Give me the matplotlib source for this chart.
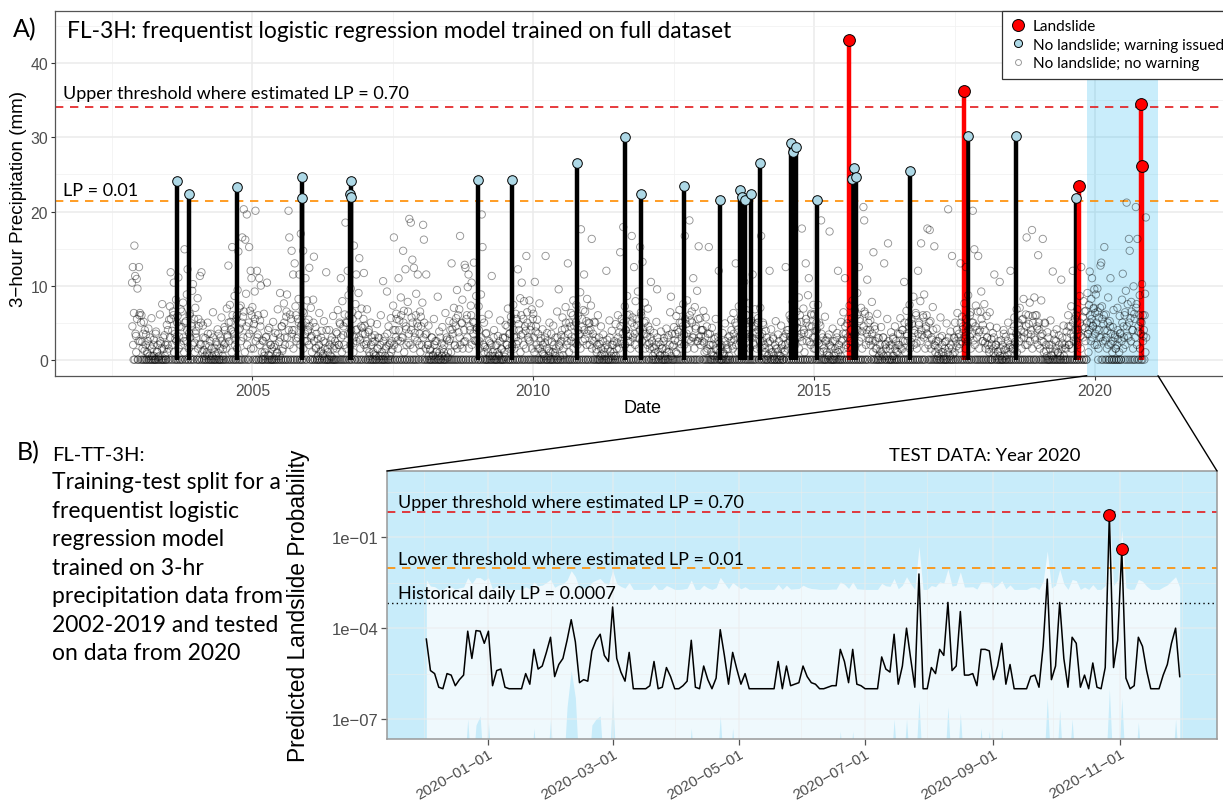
import numpy as np
import pandas as pd
import matplotlib.pyplot as plt
import matplotlib.dates as mdates
from matplotlib.lines import Line2D
from matplotlib.patches import ConnectionPatch
from matplotlib.ticker import FixedLocator, FuncFormatter

plt.rcParams['font.family'] = ['Liberation Sans', 'DejaVu Sans']
note_font = ['Lato', 'DejaVu Sans']

# ---------------- panel A data: 3-hour max precipitation (mm), sampled every 5 days
rain_2002 = [10.4, 12.5, 0, 15.4, 11.3, 3.2, 10.9, 9.6, 0, 12.5]
rain_2003 = [6.3, 0, 6.0, 2.4, 0, 5.1, 1.2, 0, 3.4, 0, 0.8, 4.2,
             0, 1.9, 0, 5.6, 0.5, 0, 2.7, 0, 0, 3.8, 1.1, 0,
             0.4, 0, 6.1, 2.2, 0, 7.5, 0, 1.5, 3.3, 0, 0, 4.7,
             2.0, 0, 5.4, 7.2, 11.8, 0, 3.9, 6.5, 10.4, 0, 2.8, 8.1,
             0, 5.9, 11.1, 3.1, 0, 6.8, 4.4, 0, 7.7, 2.5, 14.9, 0,
             5.2, 8.8, 12.2, 0, 3.6, 6.2, 0, 4.9, 9.3, 10.2, 0, 2.3, 7.0]
rain_2004 = [3.9, 0, 8.3, 5.5, 0, 11.3, 2.1, 11.8, 0, 4.6, 1.3, 0,
             2.9, 0, 0.7, 5.0, 0, 1.8, 0, 3.5, 0, 0.5, 6.4, 0,
             1.6, 0, 2.4, 0, 4.1, 0.9, 0, 0, 3.0, 5.7, 0, 1.4,
             0, 4.4, 2.2, 0, 6.9, 3.3, 12.7, 0, 7.4, 5.1, 0, 15.2,
             3.8, 0, 8.6, 2.7, 0, 6.0, 9.4, 14.6, 0, 4.2, 7.3, 0,
             16.5, 5.8, 20.3, 0, 16.2, 8.9, 19.6, 3.1, 0, 15.2, 6.6, 12.0, 11.0]
rain_2005 = [7.1, 0, 4.8, 9.2, 20.1, 0, 12.0, 3.4, 0, 11.0, 5.3, 10.0,
             0, 2.6, 0, 6.2, 1.0, 0, 3.1, 10.4, 0, 0.6, 4.3, 0,
             2.0, 0, 0, 5.1, 1.7, 0, 3.6, 0, 0.9, 6.8, 0, 2.4,
             9.0, 0, 4.5, 1.2, 0, 7.6, 3.0, 0, 5.8, 8.8, 0, 20.1,
             16.5, 6.1, 0, 14.7, 4.0, 11.5, 0, 13.0, 7.2, 2.9, 0, 5.5,
             8.2, 11.5, 0, 17.0, 4.7, 0, 14.7, 6.3, 2.5, 11.0, 0, 8.0, 3.8]
rain_2006 = [5.4, 12.4, 0, 7.0, 3.2, 0, 8.1, 13.9, 0, 4.4, 1.6, 0,
             2.8, 0, 6.3, 0, 1.2, 3.9, 0, 0.8, 5.2, 0, 2.3, 11.8,
             0, 1.5, 0, 4.0, 0, 2.6, 0.4, 0, 5.9, 0, 1.9, 0,
             3.7, 0, 6.7, 2.0, 0, 4.8, 11.0, 0, 7.9, 3.3, 0, 6.1,
             18.5, 0, 5.0, 12.0, 8.7, 0, 3.5, 9.6, 0, 6.4, 2.2, 15.4,
             0, 7.5, 11.5, 4.1, 0, 9.0, 13.7, 2.7, 0, 6.9, 4.3, 0, 11.7]
rain_2007 = [4.6, 0, 2.1, 6.8, 0, 3.7, 1.0, 0, 5.0, 0, 2.4, 0,
             0.7, 3.3, 0, 0, 4.8, 1.5, 0, 2.9, 0, 6.0, 0.5, 0,
             10.6, 0, 3.1, 0, 1.8, 9.2, 0, 4.5, 0, 2.2, 5.6, 0,
             1.4, 7.3, 16.5, 0, 4.0, 6.2, 0, 2.6, 11.0, 5.3, 0, 8.4,
             3.0, 0, 14.7, 6.6, 0, 12.2, 4.1, 0, 7.8, 2.3, 19.0, 0,
             18.5, 5.7, 13.5, 0, 12.4, 3.6, 0, 8.9, 4.9, 11.5, 0, 2.0, 6.5]
rain_2008 = [5.8, 0, 7.7, 18.2, 16.2, 0, 3.4, 11.5, 0, 2.0, 4.6, 0,
             1.3, 0, 3.0, 0, 0.6, 5.5, 0, 2.5, 0, 1.1, 8.5, 0,
             3.8, 0, 0, 2.2, 4.4, 0, 1.0, 0, 6.3, 0, 2.7, 0.3,
             0, 5.2, 2.8, 0, 13.0, 4.1, 0, 7.0, 1.9, 0, 5.6, 9.4,
             0, 3.7, 6.8, 16.7, 0, 4.9, 8.1, 0, 2.4, 12.8, 12.4, 0,
             6.0, 9.8, 11.5, 0, 4.0, 7.3, 10.4, 0, 5.1, 13.1, 2.6, 0, 8.6]
rain_2009 = [4.3, 0, 7.2, 2.5, 0, 8.8, 19.6, 15.2, 0, 5.0, 1.7, 0,
             3.6, 0, 1.0, 6.1, 0, 2.2, 0, 11.3, 0.5, 0, 4.0, 0,
             1.9, 0, 0, 3.2, 0.7, 0, 5.3, 0, 1.4, 0, 2.9, 0,
             0.4, 4.7, 0, 2.0, 6.9, 0, 3.5, 0, 5.8, 1.6, 0, 7.4,
             3.0, 0, 6.2, 2.1, 0, 12.2, 4.8, 0, 8.3, 3.3, 10.4, 0,
             5.5, 7.9, 0, 3.9, 14.0, 6.4, 0, 2.7, 8.0, 0, 4.5, 6.8, 0]
rain_2010 = [6.2, 0, 10.5, 3.8, 0, 5.4, 1.5, 0, 7.6, 0, 2.9, 0,
             4.1, 0.8, 0, 2.3, 14.0, 0, 3.6, 0, 1.2, 5.0, 0, 0,
             2.4, 0, 4.6, 0, 0.9, 3.0, 0, 6.5, 0, 9.5, 1.8, 0,
             3.3, 0, 5.7, 0.6, 0, 4.2, 7.1, 0, 2.5, 13.0, 0, 5.0,
             0, 6.3, 3.1, 0, 8.0, 4.6, 0, 2.2, 7.4, 0, 5.9, 3.4,
             0, 9.1, 17.6, 4.4, 0, 6.7, 11.5, 2.8, 0, 5.2, 8.2, 0, 3.9]
rain_2011 = [4.9, 0, 7.3, 16.3, 2.6, 0, 5.1, 0, 3.0, 1.4, 0, 6.0,
             0, 2.1, 0, 4.5, 0.7, 0, 3.4, 0, 1.6, 0, 12.0, 2.7,
             0, 0, 5.3, 1.1, 0, 3.9, 0, 2.0, 0.5, 0, 4.8, 0,
             2.3, 6.0, 0, 3.7, 14.5, 0, 5.5, 2.1, 17.9, 0, 7.2, 4.0,
             0, 8.6, 3.2, 0, 6.1, 2.4, 0, 16.7, 5.7, 0, 12.5, 3.5,
             7.9, 0, 4.7, 9.2, 0, 2.9, 15.2, 6.4, 0, 13.2, 4.1, 0, 7.7]
rain_2012 = [5.2, 0, 3.1, 6.9, 0, 2.2, 4.0, 10.5, 0, 1.7, 0, 3.6,
             0.9, 0, 5.1, 9.5, 0, 2.4, 0, 0.6, 3.8, 0, 1.5, 0,
             2.9, 0, 0, 4.2, 1.0, 0, 3.3, 0, 6.4, 8.5, 0, 1.8,
             0, 4.4, 2.6, 0, 5.9, 0.8, 0, 3.7, 6.7, 0, 2.1, 5.0,
             0, 7.5, 3.4, 16.7, 0, 4.8, 8.0, 0, 2.7, 18.8, 5.3, 0,
             6.5, 3.0, 11.0, 0, 7.1, 4.2, 0, 9.3, 2.5, 15.3, 0, 5.6, 3.2]
rain_2013 = [4.0, 0, 6.6, 2.3, 0, 5.7, 1.2, 0, 3.5, 15.2, 0, 2.0,
             0, 4.3, 0.6, 0, 2.8, 0, 5.5, 1.3, 0, 3.1, 12.0, 0,
             1.7, 0, 0, 3.6, 0, 0.8, 4.9, 0, 2.0, 0, 1.4, 0,
             3.2, 0, 5.4, 1.9, 0, 6.3, 2.7, 0, 13.0, 4.6, 0, 3.0,
             7.2, 0, 2.4, 5.8, 0, 3.9, 8.1, 10.5, 0, 2.9, 6.0, 0,
             4.4, 7.6, 0, 3.1, 5.3, 0, 11.5, 2.2, 0, 6.8, 3.7, 0, 4.9]
rain_2014 = [5.6, 0, 3.3, 7.0, 16.7, 0, 2.5, 4.7, 0, 1.6, 3.9, 0,
             0, 2.3, 0.7, 12.0, 0, 4.1, 0, 1.0, 2.8, 0, 0, 5.2,
             0, 1.5, 3.4, 0, 0.5, 0, 4.6, 2.0, 0, 0, 3.0, 1.2,
             12.5, 0, 4.0, 2.2, 0, 6.0, 3.1, 0, 5.3, 7.8, 0, 10.5,
             2.6, 0, 6.5, 4.3, 0, 8.4, 3.0, 0, 5.1, 17.7, 0, 6.9,
             3.6, 0, 13.0, 5.0, 0, 8.7, 11.0, 2.4, 0, 6.2, 4.5, 0, 7.4]
rain_2015 = [6.1, 0, 3.9, 5.0, 0, 7.4, 2.2, 0, 4.6, 18.8, 0, 3.0,
             1.1, 0, 5.8, 0, 2.6, 0.6, 0, 3.4, 17.3, 0, 1.8, 0,
             4.2, 0, 0, 2.5, 0.9, 0, 3.6, 12.0, 0, 1.3, 0, 5.1,
             0, 2.7, 6.4, 0, 11.0, 3.5, 0, 4.9, 1.6, 0, 7.3, 2.9,
             0, 5.6, 8.0, 0, 3.3, 6.7, 0, 4.1, 9.0, 0, 12.5, 5.2,
             0, 7.0, 3.8, 0, 20.6, 18.8, 6.2, 0, 4.0, 10.8, 0, 5.9, 2.8]
rain_2016 = [5.3, 0, 7.8, 2.6, 14.5, 0, 4.1, 1.5, 0, 6.2, 0, 2.9,
             0, 1.2, 4.4, 0, 0.7, 3.0, 13.0, 0, 2.1, 0, 5.5, 15.7,
             0, 1.9, 0, 3.7, 0, 0.5, 2.8, 0, 4.5, 0, 1.1, 0,
             3.5, 0, 2.0, 5.6, 0, 1.4, 4.0, 0, 10.5, 2.5, 0, 6.6,
             3.2, 0, 5.0, 7.4, 0, 2.4, 4.8, 0, 8.5, 3.6, 0, 6.3,
             2.2, 0, 12.0, 4.7, 0, 7.9, 15.7, 3.3, 0, 5.7, 8.8, 0, 4.2]
rain_2017 = [6.0, 17.7, 3.4, 0, 17.5, 5.2, 0, 2.7, 7.1, 0, 15.3, 1.9,
             0, 4.2, 0, 2.5, 0.8, 0, 5.7, 0, 3.2, 1.0, 0, 0,
             2.4, 0, 4.9, 0, 20.3, 1.6, 0, 3.8, 0, 14.0, 0.7, 0,
             2.9, 5.0, 0, 1.8, 6.3, 0, 3.5, 2.1, 13.0, 0, 5.8, 4.1,
             0, 7.6, 2.8, 12.5, 0, 4.5, 8.7, 0, 3.1, 6.4, 0, 5.0,
             20.1, 2.6, 14.9, 0, 7.3, 4.0, 0, 14.0, 3.7, 0, 6.5, 9.2, 0]
rain_2018 = [4.7, 0, 7.5, 2.3, 0, 5.9, 3.0, 0, 1.4, 6.4, 0, 2.8,
             0, 3.6, 0.9, 11.5, 0, 2.0, 4.3, 0, 1.1, 0, 10.5, 0,
             2.6, 0, 0, 4.0, 1.3, 0, 3.1, 0, 0.6, 5.0, 0, 1.7,
             12.0, 0, 3.9, 1.5, 0, 5.7, 2.4, 0, 6.8, 3.3, 0, 4.6,
             7.0, 0, 2.9, 5.4, 0, 8.2, 3.7, 0, 6.1, 16.5, 2.0, 0,
             4.8, 7.7, 0, 3.4, 17.5, 5.9, 0, 8.4, 2.7, 0, 6.0, 4.2, 14.1]
rain_2019 = [5.0, 0, 3.2, 8.0, 0, 16.3, 2.4, 0, 4.9, 1.2, 0, 3.7,
             0, 2.0, 0, 5.3, 0.6, 0, 11.9, 0, 2.7, 0, 1.5, 4.1,
             0, 0.9, 3.3, 0, 0, 10.8, 2.2, 0, 4.6, 0, 1.6, 0,
             3.8, 0, 6.0, 2.0, 0, 4.5, 7.2, 0, 12.0, 3.1, 0, 5.5,
             2.5, 0, 6.8, 4.0, 0, 8.6, 3.2, 12.5, 0, 5.7, 7.9, 0,
             4.3, 6.6, 0, 9.0, 3.5, 7.4, 11.9, 5.0, 8.2, 11.0, 4.6, 6.9, 9.5]
rain_2020 = [6.3, 8.8, 4.1, 9.6, 0, 5.7, 3.0, 12.7, 13.1, 7.2, 0, 4.8,
             15.2, 2.6, 6.1, 0, 3.9, 8.4, 0, 5.2, 11.0, 2.1, 0, 4.4,
             6.7, 0, 3.3, 1.5, 0, 7.0, 2.8, 0, 5.9, 3.6, 0, 8.1,
             11.6, 4.5, 0, 6.4, 9.3, 21.2, 3.2, 0, 16.3, 14.7, 5.6, 7.8,
             0, 4.0, 9.9, 6.2, 0, 20.6, 7.5, 16.3, 3.8, 0, 8.7, 5.1,
             0, 10.2, 6.0, 3.2, 0, 8.9, 19.2]

# second reading per 5-day window (two days later): the dense low-rainfall band
low_2002 = [4.5, 2, 6.3, 0, 3.5, 1, 5.5, 0, 2.5, 6]
low_2003 = [2.5, 5, 0, 1.5, 3.5, 0, 4, 2, 0, 1, 2.5, 0,
            0.5, 3, 0, 1.5, 0, 2, 0.5, 0, 3.5, 0, 1, 2,
            0, 0.5, 2.5, 0, 1.5, 0, 3, 0, 0.5, 2, 0, 1,
            4, 1.5, 0, 3, 5.5, 2, 0, 6, 1, 3.5, 0, 2.5,
            5, 0, 1.5, 4.5, 0, 2, 6.5, 0, 3, 1, 5, 0,
            2.5, 4, 0, 1.5, 6, 3, 0, 4.5, 2, 0, 5.5, 1, 3.5]
low_2004 = [3, 0, 1.5, 4.5, 0, 2, 5, 0, 1, 3, 0, 0.5,
            2, 0, 1, 3.5, 0, 0.5, 2.5, 0, 1.5, 0, 3, 0,
            1, 0, 0.5, 2, 0, 3.5, 0, 1.5, 0, 2.5, 0.5, 0,
            2, 4, 0, 1.5, 3, 0, 5, 2.5, 0, 4, 1, 6,
            0, 3.5, 2, 0, 5.5, 1.5, 0, 4, 7, 0, 2.5, 5,
            0, 3, 6.5, 1, 0, 4.5, 2, 0, 5, 3.5, 0, 1.5, 6]
low_2005 = [4, 1.5, 0, 5.5, 2.5, 0, 3, 6, 0, 2, 4.5, 0,
            1, 0, 2.5, 0.5, 0, 3, 1.5, 0, 4, 0, 0.5, 2,
            0, 1.5, 0, 3, 0, 2, 0.5, 0, 1, 3.5, 0, 0.5,
            3, 0, 4.5, 1.5, 0, 5, 2, 0, 6.5, 3, 0, 4,
            2, 0, 5.5, 3.5, 0, 1.5, 4, 0, 6, 2.5, 0, 3,
            5, 0, 2, 4.5, 0, 6.5, 1.5, 0, 3.5, 5, 0, 2.5, 4]
low_2006 = [2, 4.5, 0, 3, 1, 0, 5, 2.5, 0, 1.5, 3.5, 0,
            0.5, 2, 0, 1, 3, 0, 0.5, 2.5, 0, 1.5, 0, 4,
            0, 1, 0, 2, 0.5, 0, 3, 0, 1.5, 0, 2.5, 0,
            1.5, 3.5, 0, 2, 5, 0, 3, 1, 0, 4.5, 2, 0,
            5, 1.5, 0, 3.5, 6, 0, 2, 4, 0, 5.5, 1, 3,
            0, 4, 2.5, 0, 6, 3, 0, 1.5, 4.5, 0, 3.5, 5.5, 2]
low_2007 = [3.5, 0, 1.5, 2.5, 0, 4, 0.5, 0, 2, 3, 0, 1,
            0, 2.5, 0.5, 0, 1.5, 3, 0, 0.5, 2, 0, 1, 0,
            2.5, 0, 0.5, 1.5, 0, 3.5, 0, 2, 0.5, 0, 1, 2.5,
            0, 4, 2, 0, 3, 5.5, 0, 1.5, 4, 0, 2.5, 6,
            0, 3, 5, 1, 0, 4.5, 2, 0, 6.5, 3.5, 0, 2,
            4, 0, 5, 1.5, 0, 3, 6, 0, 2.5, 4.5, 0, 3.5, 1]
low_2008 = [4.5, 2, 0, 3, 5, 0, 1.5, 3.5, 0, 2, 0.5, 0,
            1.5, 0, 3, 0.5, 0, 2, 0, 1, 2.5, 0, 0.5, 0,
            1, 3, 0, 0.5, 1.5, 0, 2, 0, 0.5, 3, 0, 1,
            2.5, 0, 4, 1, 0, 3.5, 5, 0, 2, 4.5, 0, 1.5,
            6, 0, 3, 2, 0, 5, 1.5, 0, 4, 2.5, 0, 5.5,
            3, 0, 1.5, 4.5, 0, 6, 2, 0, 3.5, 5, 0, 2.5, 4]
low_2009 = [2.5, 0, 4, 1.5, 0, 3, 5.5, 0, 2, 1, 0, 3.5,
            0, 1.5, 0, 2.5, 0.5, 0, 2, 0, 1, 3, 0, 0.5,
            0, 2, 1, 0, 0.5, 2.5, 0, 1.5, 0, 3, 0, 1,
            3, 0, 2, 4.5, 0, 1.5, 3.5, 0, 5, 2, 0, 4,
            1.5, 0, 3, 5.5, 0, 2.5, 4, 0, 1, 6, 0, 3.5,
            2, 0, 4.5, 1.5, 0, 5, 3, 0, 2.5, 4, 0, 1.5, 5.5]
low_2010 = [3, 1, 0, 4.5, 2, 0, 3.5, 0, 1.5, 2.5, 0, 1,
            2, 0, 0.5, 3, 0, 1.5, 0, 2.5, 0.5, 0, 1, 3.5,
            0, 1, 2, 0, 0.5, 1.5, 0, 3, 0, 2, 0.5, 0,
            2.5, 4, 0, 1.5, 3, 0, 5, 2, 0, 3.5, 1, 0,
            4.5, 2.5, 0, 6, 1.5, 0, 3, 5, 0, 2, 4, 0,
            3.5, 1.5, 0, 5.5, 2.5, 0, 4, 6.5, 0, 2, 3.5, 0, 5]
low_2011 = [2, 4, 0, 1.5, 3.5, 0, 2.5, 5, 0, 1, 2, 0,
            3, 0, 0.5, 1.5, 0, 2.5, 0, 1, 0.5, 0, 2, 0,
            1.5, 0, 3, 0, 0.5, 2, 0, 1, 2.5, 0, 0.5, 1.5,
            0, 3, 1.5, 0, 4.5, 2.5, 0, 3.5, 5, 0, 2, 4,
            0, 6, 2.5, 0, 3.5, 1.5, 0, 5, 3, 0, 4.5, 2,
            0, 5.5, 3, 0, 1.5, 4, 0, 6, 2.5, 0, 3.5, 5, 1.5]
low_2012 = [3.5, 0, 2, 4.5, 0, 1.5, 3, 0, 2.5, 0.5, 0, 1.5,
            0, 2, 0, 3, 1, 0, 0.5, 2, 0, 1.5, 0, 2.5,
            0, 0.5, 1.5, 0, 3, 0, 1, 2, 0, 0.5, 3.5, 0,
            2, 0, 3.5, 1, 0, 4, 2.5, 0, 5, 1.5, 0, 3,
            4.5, 0, 2, 5.5, 0, 3.5, 1.5, 0, 4, 6, 0, 2.5,
            5, 0, 3, 1.5, 0, 4.5, 2.5, 0, 5.5, 3, 0, 2, 4]
low_2013 = [2.5, 4, 0, 1, 3, 0, 4.5, 1.5, 0, 2, 3.5, 0,
            1, 0, 2, 0.5, 0, 3, 1.5, 0, 0.5, 2.5, 0, 1,
            0, 2, 0, 1, 0.5, 0, 2.5, 0, 1.5, 0, 3, 0.5,
            0, 2.5, 4, 0, 1.5, 3.5, 0, 5, 2, 0, 4, 1,
            0, 3, 5.5, 0, 2, 4.5, 0, 1.5, 3.5, 0, 6, 2.5,
            0, 4, 1.5, 0, 5, 3, 0, 2, 4.5, 0, 3.5, 1.5, 5]
low_2014 = [4, 0, 2.5, 1.5, 0, 3.5, 5, 0, 2, 1, 0, 3,
            0.5, 0, 1.5, 2.5, 0, 1, 0, 3, 0.5, 0, 2, 1.5,
            0, 1, 0, 2.5, 0, 0.5, 1.5, 0, 3, 0, 1, 2,
            3.5, 0, 1.5, 4, 0, 2.5, 5.5, 0, 3, 1.5, 0, 4.5,
            2, 0, 5, 3, 0, 1.5, 6, 0, 3.5, 2.5, 0, 4,
            1, 0, 5.5, 2.5, 0, 3.5, 4.5, 0, 2, 6, 0, 3, 1.5]
low_2015 = [3, 1.5, 0, 4, 2.5, 0, 5, 1, 0, 3.5, 2, 0,
            1.5, 0, 2.5, 0, 1, 3, 0, 0.5, 2, 0, 1.5, 0,
            2.5, 0, 0.5, 1.5, 0, 3, 0, 1, 2, 0, 0.5, 2.5,
            0, 3.5, 1.5, 0, 4.5, 2, 0, 3, 5.5, 0, 2.5, 4,
            0, 1.5, 5, 0, 3.5, 2, 0, 6, 4, 0, 2.5, 5.5,
            0, 3, 1.5, 0, 4.5, 6.5, 0, 2, 3.5, 0, 5, 2.5, 4]
low_2016 = [2, 0, 3.5, 1, 0, 4.5, 2.5, 0, 1.5, 3, 0, 0.5,
            2, 0, 1, 0, 3, 0.5, 0, 2, 1.5, 0, 0.5, 2.5,
            0, 1.5, 0, 2, 0, 3, 0.5, 0, 1.5, 2.5, 0, 1,
            2, 0, 3.5, 1.5, 0, 4, 2.5, 0, 5, 1, 0, 3.5,
            2.5, 0, 4.5, 1.5, 0, 5.5, 3, 0, 2, 4, 0, 6,
            1.5, 0, 3.5, 5, 0, 2.5, 4, 0, 6, 3, 0, 1.5, 4.5]
low_2017 = [3.5, 0, 2, 5, 0, 1.5, 3, 0, 4, 2, 0, 1,
            2.5, 0, 0.5, 1.5, 0, 3, 0, 1, 2, 0, 0.5, 1.5,
            0, 2.5, 0, 1, 3, 0, 0.5, 2, 0, 1.5, 0, 3,
            1, 0, 2.5, 4, 0, 3, 1.5, 0, 5, 2.5, 0, 4.5,
            3, 0, 1.5, 5.5, 0, 2.5, 4, 0, 6, 1.5, 0, 3.5,
            5, 0, 2, 4.5, 0, 3, 6.5, 0, 1.5, 4, 0, 5.5, 2.5]
low_2018 = [2.5, 0, 4, 1.5, 0, 3, 2, 0, 1, 4.5, 0, 2,
            0, 1.5, 3, 0, 0.5, 2, 0, 1, 2.5, 0, 0.5, 1.5,
            0, 2, 0, 3.5, 0.5, 0, 1.5, 0, 2.5, 1, 0, 2,
            0, 3, 1.5, 0, 4.5, 2, 0, 3.5, 1, 0, 5, 2.5,
            0, 4, 1.5, 0, 5.5, 3, 0, 2, 4.5, 0, 3.5, 6,
            0, 2.5, 4, 0, 1.5, 5, 0, 3, 6, 0, 4.5, 2, 0]
low_2019 = [4, 1.5, 0, 2.5, 3.5, 0, 1, 5, 0, 2, 0.5, 0,
            3, 0, 1.5, 0, 2, 0.5, 0, 3.5, 1, 0, 2.5, 0,
            1, 0, 2, 0.5, 0, 1.5, 3, 0, 0.5, 2, 0, 1.5,
            3, 0, 4.5, 2, 0, 3.5, 1.5, 0, 5, 2.5, 0, 4,
            6, 0, 2, 3.5, 0, 5, 1.5, 0, 4.5, 3, 0, 6.5,
            2.5, 0, 5, 3.5, 1, 4, 6, 2.5, 5.5, 3, 4.5, 7, 2]
low_2020 = [3.5, 5, 2, 6.5, 1.5, 4, 7, 3, 0, 5.5, 2.5, 6,
            4, 0, 3, 1.5, 5, 2, 0, 4.5, 3.5, 0, 1, 2.5,
            0, 3, 1.5, 0, 2, 4, 0, 1, 3.5, 0, 2.5, 5,
            1.5, 3, 6, 2, 0, 4.5, 7.5, 3, 5, 0, 2.5, 6.5,
            4, 1.5, 0, 5.5, 3, 7, 2, 0, 4.5, 6, 1.5, 3.5,
            5, 0, 2.5, 4, 6, 1, 3]

rain_starts = ['2002-11-11'] + [f'{y}-01-01' for y in range(2003, 2021)]
low_starts = ['2002-11-13'] + [f'{y}-01-03' for y in range(2003, 2021)]
rain_lists = [rain_2002, rain_2003, rain_2004, rain_2005, rain_2006, rain_2007,
              rain_2008, rain_2009, rain_2010, rain_2011, rain_2012, rain_2013,
              rain_2014, rain_2015, rain_2016, rain_2017, rain_2018, rain_2019,
              rain_2020]
low_lists = [low_2002, low_2003, low_2004, low_2005, low_2006, low_2007,
             low_2008, low_2009, low_2010, low_2011, low_2012, low_2013,
             low_2014, low_2015, low_2016, low_2017, low_2018, low_2019,
             low_2020]

# days above the LP = 0.01 threshold without a landslide (warning issued)
warn_dates = ['2003-09-02', '2003-11-14', '2004-09-20', '2005-11-17', '2005-11-21',
              '2006-09-27', '2006-10-01', '2006-10-04', '2009-01-08', '2009-08-15',
              '2010-10-12', '2011-08-19', '2011-11-29', '2012-09-09', '2013-05-01',
              '2013-09-06', '2013-09-20', '2013-10-08', '2013-11-17', '2014-01-12',
              '2014-08-04', '2014-08-15', '2014-09-02', '2015-01-19', '2015-09-06',
              '2015-09-17', '2015-09-28', '2016-09-13', '2017-09-24', '2018-08-08',
              '2019-08-29']
warn_mm = [24.1, 22.4, 23.3, 21.8, 24.6,
           22.4, 22.0, 24.1, 24.3, 24.3,
           26.6, 30.0, 22.4, 23.4, 21.6,
           22.9, 21.9, 21.6, 22.4, 26.6,
           29.2, 28.0, 28.7, 21.6, 24.4,
           25.9, 24.6, 25.4, 30.2, 30.2,
           21.8]

# landslide days
slide_dates = ['2015-08-15', '2017-09-03', '2019-09-20', '2020-10-27', '2020-11-02']
slide_mm = [43.1, 36.3, 23.4, 34.5, 26.2]

upper_mm = 34.1   # precipitation where estimated LP = 0.70
lower_mm = 21.4   # precipitation where estimated LP = 0.01
test_window = ['2019-11-08', '2021-02-13']

# ---------------- panel B data: predicted LP for the 2020 test year (log10, every 2 days)
lp_start = '2019-12-02'
lp_log = [-4.36, -5.4, -5.5, -5.95, -6.0, -5.5, -5.55, -5.9, -5.7, -5.55,
          -4.1, -5.0, -4.08, -4.1, -4.5, -4.1, -5.9, -5.4, -5.35, -5.95,
          -6.0, -6.0, -6.0, -6.0, -5.5, -5.85, -4.7, -5.35, -5.25, -4.8,
          -4.3, -5.6, -5.2, -5.0, -4.4, -3.72, -4.45, -5.8, -5.7, -5.75,
          -4.75, -4.4, -4.2, -4.9, -5.1, -3.3, -5.0, -5.45, -5.75, -4.8,
          -6.0, -6.0, -6.0, -6.0, -5.9, -5.1, -6.0, -5.95, -5.3, -5.6,
          -6.0, -6.0, -5.9, -5.75, -4.4, -5.95, -6.0, -5.25, -5.7, -6.0,
          -5.65, -4.05, -4.9, -5.85, -4.8, -5.35, -5.85, -5.5, -6.0, -6.0,
          -6.0, -6.0, -6.0, -6.0, -6.0, -5.1, -6.0, -5.25, -5.9, -5.85,
          -5.8, -5.25, -5.6, -5.8, -5.85, -6.0, -6.0, -5.95, -5.9, -5.9,
          -4.7, -5.1, -5.8, -4.7, -5.85, -5.9, -6.0, -6.0, -6.0, -6.0,
          -4.95, -5.35, -5.45, -4.2, -5.85, -5.25, -4.0, -5.0, -5.95, -2.21,
          -6.0, -6.0, -5.3, -5.5, -4.7, -4.9, -3.15, -5.4, -5.25, -3.45,
          -5.55, -5.55, -5.5, -5.9, -4.7, -4.7, -4.75, -5.7, -5.25, -4.5,
          -5.85, -5.2, -6.0, -6.0, -6.0, -6.0, -5.6, -5.55, -5.95, -4.6,
          -2.38, -5.7, -5.25, -3.15, -5.0, -5.95, -4.3, -4.5, -5.95, -5.55,
          -6.0, -5.15, -5.95, -6.0, -5.3, -0.25, -5.3, -4.4, -1.40, -5.65,
          -6.0, -5.9, -4.3, -4.6, -5.4, -6.0, -6.0, -6.0, -5.55, -5.2,
          -4.5, -4.0, -5.6]
band_hi = [-2.40, -2.61, -2.63, -2.72, -2.72, -2.63, -2.64, -2.71, -2.67, -2.64,
           -2.33, -2.53, -2.33, -2.33, -2.43, -2.33, -2.71, -2.61, -2.60, -2.72,
           -2.72, -2.72, -2.72, -2.72, -2.63, -2.70, -2.47, -2.60, -2.58, -2.49,
           -2.39, -2.65, -2.57, -2.53, -2.41, -2.10, -2.30, -2.69, -2.67, -2.68,
           -2.48, -2.41, -2.36, -2.51, -2.55, -2.10, -2.53, -2.62, -2.68, -2.49,
           -2.72, -2.72, -2.72, -2.72, -2.71, -2.55, -2.72, -2.72, -2.59, -2.65,
           -2.72, -2.72, -2.71, -2.68, -2.41, -2.72, -2.72, -2.58, -2.67, -2.72,
           -2.66, -2.32, -2.51, -2.70, -2.49, -2.60, -2.70, -2.63, -2.72, -2.72,
           -2.72, -2.72, -2.72, -2.72, -2.72, -2.55, -2.72, -2.58, -2.71, -2.70,
           -2.69, -2.58, -2.65, -2.69, -2.70, -2.72, -2.72, -2.72, -2.71, -2.71,
           -2.47, -2.55, -2.69, -2.47, -2.70, -2.71, -2.72, -2.72, -2.72, -2.72,
           -2.52, -2.60, -2.62, -2.36, -2.70, -2.58, -2.30, -2.53, -2.72, -1.30,
           -2.72, -2.72, -2.59, -2.63, -2.47, -2.51, -2.05, -2.61, -2.58, -2.14,
           -2.64, -2.64, -2.63, -2.71, -2.47, -2.47, -2.48, -2.67, -2.58, -2.43,
           -2.70, -2.57, -2.72, -2.72, -2.72, -2.72, -2.65, -2.64, -2.72, -2.45,
           -1.45, -2.67, -2.58, -2.05, -2.53, -2.72, -2.39, -2.43, -2.72, -2.64,
           -2.72, -2.56, -2.72, -2.72, -2.59, -0.05, -2.59, -2.41, -0.75, -2.66,
           -2.72, -2.71, -2.39, -2.45, -2.61, -2.72, -2.72, -2.72, -2.64, -2.57,
           -2.43, -2.30, -2.65]
band_lo = [-9, -9, -9, -9, -9, -9, -9, -9, -9, -9,
           -7.0, -9, -7.2, -6.9, -9, -7.1, -9, -9, -9, -9,
           -9, -9, -9, -9, -9, -9, -7.3, -9, -9, -9,
           -7.0, -9, -9, -9, -6.6, -5.4, -6.3, -9, -9, -9,
           -7.2, -7.0, -6.9, -9, -9, -6.2, -9, -9, -9, -9,
           -9, -9, -9, -9, -9, -9, -9, -9, -9, -9,
           -9, -9, -9, -9, -7.3, -9, -9, -9, -9, -9,
           -9, -6.9, -9, -9, -7.3, -9, -9, -9, -9, -9,
           -9, -9, -9, -9, -9, -9, -9, -9, -9, -9,
           -9, -9, -9, -9, -9, -9, -9, -9, -9, -9,
           -7.4, -9, -9, -7.4, -9, -9, -9, -9, -9, -9,
           -9, -9, -9, -7.0, -9, -9, -7.0, -9, -9, -6.4,
           -9, -9, -9, -9, -9, -9, -6.6, -9, -9, -6.8,
           -9, -9, -9, -9, -7.3, -9, -7.4, -9, -9, -7.3,
           -9, -9, -9, -9, -9, -9, -9, -9, -9, -9,
           -6.3, -9, -9, -6.7, -9, -9, -7.0, -9, -9, -9,
           -9, -9, -9, -9, -9, -6.0, -9, -9, -6.3, -9,
           -9, -9, -7.1, -9, -9, -9, -9, -9, -9, -9,
           -9, -7.0, -9]
slide_b_dates = ['2020-10-27', '2020-11-02']
slide_b_prob = [0.56, 0.04]
lp_upper, lp_lower, lp_hist = 0.70, 0.01, 0.0007

descr_lines = ['Training-test split for a', 'frequentist logistic', 'regression model',
               'trained on 3-hr', 'precipitation data from', '2002-2019 and tested',
               'on data from 2020']

# ---------------- figure
W, H = 1223, 803
fig = plt.figure(figsize=(W / 100, H / 100), dpi=100)


def px_box(x0, y0, x1, y1):
    return [x0 / W, 1 - y1 / H, (x1 - x0) / W, (y1 - y0) / H]


def stack(starts, lists):
    d = np.concatenate([pd.date_range(s, periods=len(v), freq='5D').values
                        for s, v in zip(starts, lists)])
    return d, np.concatenate([np.asarray(v, float) for v in lists])


tick_grey = '#4d4d4d'

# ---- panel A
ax = fig.add_axes(px_box(55, 11.7, 1240, 376.7))
rain_dates, rain_mm = stack(rain_starts, rain_lists)
low_dates, low_mm = stack(low_starts, low_lists)
cloud_dates = np.concatenate([rain_dates, low_dates])
cloud_mm = np.concatenate([rain_mm, low_mm])

ax.axvspan(pd.Timestamp(test_window[0]), pd.Timestamp(test_window[1]),
           color='#00aeef', alpha=0.21, lw=0, zorder=1)
ax.axhline(upper_mm, color='#e31a1c', lw=1.2, ls=(0, (5, 4)), zorder=2)
ax.axhline(lower_mm, color='#ff8c00', lw=1.2, ls=(0, (5, 4)), zorder=2)
ax.vlines(pd.to_datetime(warn_dates), 0, warn_mm, color='black', lw=3.2, zorder=3)
ax.vlines(pd.to_datetime(slide_dates), 0, slide_mm, color='#ff0000', lw=3.2, zorder=3)
ax.scatter(cloud_dates, cloud_mm, s=28, facecolors='none', edgecolors='black',
           linewidths=0.65, alpha=0.42, zorder=3.5)
ax.scatter(pd.to_datetime(warn_dates), warn_mm, s=48, c='lightblue',
           edgecolors='black', linewidths=0.7, zorder=4)
ax.scatter(pd.to_datetime(slide_dates), slide_mm, s=72, c='#ff0000',
           edgecolors='black', linewidths=0.7, zorder=5)

ax.set_xlim(pd.Timestamp('2001-06-28'), pd.Timestamp('2022-07-31'))
ax.set_ylim(-2.16, 47.1)
ax.yaxis.set_major_locator(FixedLocator([0, 10, 20, 30, 40]))
ax.yaxis.set_minor_locator(FixedLocator([5, 15, 25, 35, 45]))
ax.xaxis.set_major_locator(mdates.YearLocator(5))
ax.xaxis.set_major_formatter(mdates.DateFormatter('%Y'))
ax.xaxis.set_minor_locator(FixedLocator(mdates.date2num(pd.to_datetime(
    ['2002-07-02', '2007-07-02', '2012-07-02', '2017-07-02', '2022-07-02']))))
ax.grid(which='major', color='#ebebeb', lw=1.1)
ax.grid(which='minor', color='#f2f2f2', lw=0.6)
ax.set_axisbelow(True)
ax.tick_params(which='major', length=3, width=0.8, color='#333333',
               labelcolor=tick_grey, labelsize=11.3, pad=2)
ax.tick_params(which='minor', length=0)
for s in ax.spines.values():
    s.set_color('#555555')
    s.set_linewidth(0.9)
ax.set_ylabel('3\u2212hour Precipitation (mm)', fontsize=13.5, va='center')
ax.yaxis.set_label_coords(-0.031, 0.487)
ax.set_xlabel('Date', fontsize=13, va='center')
ax.xaxis.set_label_coords(0.496, -0.088)

ax.text((66.7 - 55) / 1185, (376.7 - 38.3) / 365,
        'FL-3H: frequentist logistic regression model trained on full dataset',
        transform=ax.transAxes, fontsize=16.4, family=note_font, va='baseline')
blend = ax.get_yaxis_transform()
ax.text(0.0065, upper_mm + 1.2, 'Upper threshold where estimated LP = 0.70',
        transform=blend, fontsize=13, family=note_font, va='baseline')
ax.text(0.0065, lower_mm + 0.85, 'LP = 0.01',
        transform=blend, fontsize=13, family=note_font, va='baseline')

handles = [
    Line2D([], [], ls='none', marker='o', ms=8.6, mfc='#ff0000', mec='black', mew=0.7),
    Line2D([], [], ls='none', marker='o', ms=5.8, mfc='lightblue', mec='black', mew=0.7),
    Line2D([], [], ls='none', marker='o', ms=4.3, mfc='none', mec='#9a9a9a', mew=0.7),
]
leg = ax.legend(handles, ['Landslide', 'No landslide; warning issued',
                          'No landslide; no warning'],
                loc='upper left', bbox_to_anchor=(1002.3 / W, 1 - 11.7 / H),
                bbox_transform=fig.transFigure, prop={'family': note_font, 'size': 11},
                frameon=True, fancybox=False, edgecolor='#333333', framealpha=1,
                borderpad=0.55, labelspacing=0.3, handlelength=1.0,
                handletextpad=0.45, borderaxespad=0)
leg.get_frame().set_linewidth(0.9)
leg.set_zorder(10)

fig.text(13 / W, 1 - 37.7 / H, 'A)', fontsize=18, family=note_font, va='baseline')

# ---- panel B
axb = fig.add_axes(px_box(387, 472, 1217, 740))
axb.set_facecolor('#c8ecfa')
lp_dates = pd.date_range(lp_start, periods=len(lp_log), freq='2D')
axb.fill_between(lp_dates, 10 ** np.asarray(band_lo), 10 ** np.asarray(band_hi),
                 color='#eff9fd', lw=0, zorder=1)
axb.axhline(lp_upper, color='#e31a1c', lw=1.2, ls=(0, (5, 4)), zorder=2)
axb.axhline(lp_lower, color='#ff8c00', lw=1.2, ls=(0, (5, 4)), zorder=2)
axb.axhline(lp_hist, color='black', lw=1.0, ls=(0, (1, 2.3)), zorder=2)
axb.plot(lp_dates, 10 ** np.asarray(lp_log), color='black', lw=1.1, zorder=3)
axb.scatter(pd.to_datetime(slide_b_dates), slide_b_prob, s=72, c='#ff0000',
            edgecolors='black', linewidths=0.7, zorder=5)

axb.set_yscale('log')
axb.set_ylim(10 ** -7.66, 10 ** 1.19)
axb.set_xlim(pd.Timestamp('2019-11-13'), pd.Timestamp('2020-12-18'))
axb.yaxis.set_major_locator(FixedLocator([1e-1, 1e-4, 1e-7]))
axb.yaxis.set_minor_locator(FixedLocator([10 ** 0.5, 10 ** -2.5, 10 ** -5.5]))
axb.yaxis.set_major_formatter(FuncFormatter(lambda v, p: f'{v:.0e}'.replace('-', '\u2212')))
axb.xaxis.set_major_locator(mdates.MonthLocator(bymonth=[1, 3, 5, 7, 9, 11]))
axb.xaxis.set_minor_locator(FixedLocator(mdates.date2num(pd.to_datetime(
    ['2019-12-01', '2020-01-31', '2020-03-31', '2020-05-31', '2020-07-31',
     '2020-09-30', '2020-12-01']))))
axb.xaxis.set_major_formatter(FuncFormatter(
    lambda v, p: mdates.num2date(v).strftime('%Y-%m-%d').replace('-', '\u2212')))
axb.set_axisbelow('line')
axb.grid(which='major', color='#ececec', lw=1.1, alpha=0.6)
axb.grid(which='minor', color='#ececec', lw=0.6, alpha=0.6)
axb.tick_params(which='major', length=4, width=0.9, color='#555555',
                labelcolor=tick_grey, labelsize=12, pad=2)
axb.tick_params(axis='x', which='major', labelsize=11, pad=1.5)
axb.tick_params(which='minor', length=0)
plt.setp(axb.get_xticklabels(), rotation=30, ha='right', rotation_mode='anchor')
for s in axb.spines.values():
    s.set_color('#999999')
    s.set_linewidth(1.1)
axb.set_ylabel('Predicted Landslide Probability', fontsize=16.4, va='center')
axb.yaxis.set_label_coords(-0.107, 0.5)

yb = axb.get_yaxis_transform()
axb.text(0.0133, lp_upper * 1.4, 'Upper threshold where estimated LP = 0.70',
         transform=yb, fontsize=13, family=note_font, va='baseline')
axb.text(0.0133, lp_lower * 1.35, 'Lower threshold where estimated LP = 0.01',
         transform=yb, fontsize=13, family=note_font, va='baseline')
axb.text(0.0133, lp_hist * 1.4, 'Historical daily LP = 0.0007',
         transform=yb, fontsize=13, family=note_font, va='baseline')
axb.text((984.5 - 387) / 830, 1 + 11.3 / 268, 'TEST DATA: Year 2020',
         transform=axb.transAxes, fontsize=13.3, family=note_font,
         ha='center', va='baseline')

# zoom connectors from the shaded test window down to panel B
ymin = ax.get_ylim()[0]
for xa, xb in [(test_window[0], 0), (test_window[1], 1)]:
    con = ConnectionPatch(xyA=(mdates.date2num(pd.Timestamp(xa)), ymin), coordsA=ax.transData,
                          xyB=(xb, 1), coordsB=axb.transAxes, color='black', lw=1.0)
    fig.add_artist(con)

fig.text(17 / W, 1 - 460.7 / H, 'B)', fontsize=18, family=note_font, va='baseline')
fig.text(52 / W, 1 - 460.7 / H, 'FL-TT-3H:', fontsize=14.5, family=note_font, va='baseline')
for i, line in enumerate(descr_lines):
    fig.text(52 / W, 1 - (489.5 + 28.5 * i) / H, line, fontsize=16.5,
             family=note_font, va='baseline')

fig.savefig('out.png', dpi=100, facecolor='white')
